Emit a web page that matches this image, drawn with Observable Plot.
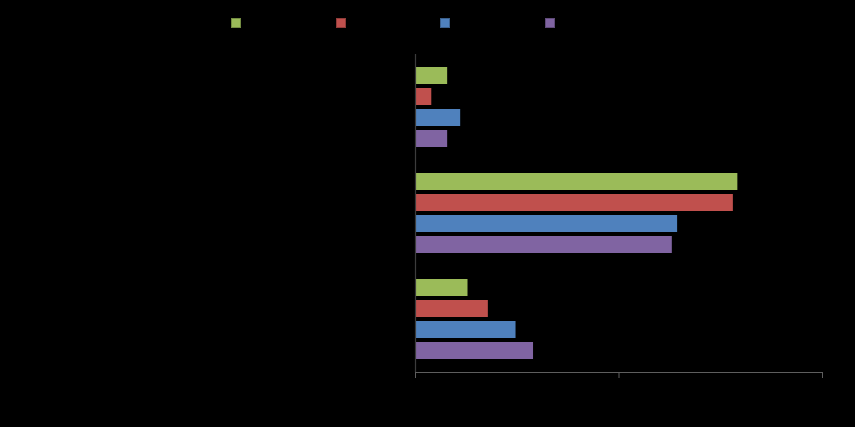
<!DOCTYPE html>
<html><head><meta charset="utf-8">
<script src="https://cdn.jsdelivr.net/npm/d3@7"></script>
<script src="https://cdn.jsdelivr.net/npm/@observablehq/plot@0.6"></script>
<style>
html,body{margin:0;padding:0;background:#000;}
#wrap{position:relative;width:855px;height:427px;overflow:hidden;font-family:"Liberation Sans",Arial,sans-serif;}
#legend{position:absolute;left:231px;top:18px;display:flex;}
.item{width:104.7px;display:flex;align-items:center;font-size:12px;line-height:10px;color:#000;}
.sw{width:10px;height:10px;margin-right:4px;box-sizing:border-box;border:1px solid rgba(0,0,0,0.25);flex:none;}
#chart{position:absolute;left:0;top:0;}
</style></head><body><div id="wrap"><div id="chart"></div><div id="legend"></div></div>
<script>
const categories = ["Category A", "Category B", "Category C"];
const series = ["Series 1", "Series 2", "Series 3", "Series 4"];
const colors = ["#9BBB59", "#C0504D", "#4F81BD", "#8064A2"];
const series1 = [7.9, 79.2, 12.9];
const series2 = [4.0, 78.1, 17.9];
const series3 = [11.1, 64.4, 24.7];
const series4 = [7.9, 63.1, 29.0];
const xTicks = [0, 50, 100];

const values = [series1, series2, series3, series4];
const data = series.flatMap((s, i) => categories.map((c, j) => ({series: s, category: c, value: values[i][j]})));

const chart = Plot.plot({
  width: 855, height: 427,
  marginTop: 53, marginBottom: 55, marginLeft: 415, marginRight: 33,
  style: {background: "transparent", fontFamily: "Liberation Sans, Arial, sans-serif", fontSize: "12px"},
  x: {domain: [0, 100], axis: null},
  y: {domain: series, paddingInner: 0.2, paddingOuter: 0.6, axis: null},
  fy: {domain: categories, padding: 0, axis: null},
  color: {domain: series, range: colors},
  marks: [
    Plot.barX(data, {x: "value", y: "series", fy: "category", fill: "series"}),
    Plot.ruleX([0], {stroke: "#3c3c3c", strokeWidth: 1.2}),
    Plot.frame({anchor: "bottom", facetAnchor: "bottom", stroke: "#5e5e5e"}),
    Plot.axisX({ticks: xTicks, tickSize: 6, stroke: "#5e5e5e", fill: "#000", tickFormat: d => d + "%"}),
    Plot.axisFy({anchor: "left", fill: "#000", tickSize: 0, tickPadding: 8, label: null})
  ]
});
document.getElementById("chart").appendChild(chart);

const legend = d3.select("#legend");
const items = legend.selectAll(".item").data(series).join("div").attr("class", "item");
items.append("div").attr("class", "sw").style("background", (d, i) => colors[i]);
items.append("span").text(d => d);
</script>
</body></html>
